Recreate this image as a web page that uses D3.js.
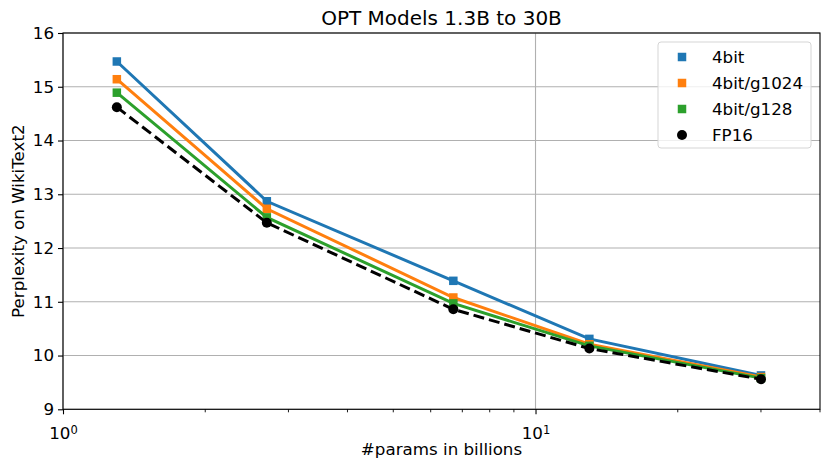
<!DOCTYPE html>
<html>
<head>
<meta charset="utf-8">
<script src="https://cdn.jsdelivr.net/npm/d3@7"></script>
<style>
  body { margin: 0; background: #fff; }
  text { font-family: "DejaVu Sans", sans-serif; fill: #000; }
</style>
</head>
<body>
<div id="chart-area"></div>
<script>
// model sizes (billions of params)
var params = [1.3, 2.7, 6.7, 13, 30];

var seriesNames = ["4bit", "4bit/g1024", "4bit/g128", "FP16"];
var ppl4bit = [15.47, 12.87, 11.39, 10.31, 9.63];
var ppl4bitG1024 = [15.14, 12.73, 11.08, 10.21, 9.60];
var ppl4bitG128 = [14.89, 12.57, 10.97, 10.18, 9.58];
var pplFP16 = [14.62, 12.47, 10.86, 10.13, 9.56];

var yTicks = [9, 10, 11, 12, 13, 14, 15, 16];
var xMajor = [1, 10];
var xMinor = [2, 3, 4, 5, 6, 7, 8, 9, 20, 30, 40];

var width = 830;
var height = 469;
var margin = {left: 63, right: 10, top: 33, bottom: 60};
var fs = "16.7px";

var svg = d3.select("#chart-area")
    .append("svg")
    .attr("width", width)
    .attr("height", height);

var x = d3.scaleLog()
    .domain([1, 40])
    .range([margin.left, width - margin.right]);

var y = d3.scaleLinear()
    .domain([9, 16])
    .range([height - margin.bottom + 0.3, margin.top]);

// grid
svg.append("g")
    .selectAll("line.hgrid")
    .data(yTicks)
    .enter().append("line")
    .attr("x1", x(1)).attr("x2", x(40))
    .attr("y1", function(d) { return y(d); })
    .attr("y2", function(d) { return y(d); })
    .attr("stroke", "#b0b0b0")
    .attr("stroke-width", 1.1);

svg.append("g")
    .selectAll("line.vgrid")
    .data(xMajor)
    .enter().append("line")
    .attr("x1", function(d) { return x(d); })
    .attr("x2", function(d) { return x(d); })
    .attr("y1", y(9)).attr("y2", y(16))
    .attr("stroke", "#b0b0b0")
    .attr("stroke-width", 1.1);

// axes
var yAxisCall = d3.axisLeft(y)
    .tickValues(yTicks)
    .tickSize(5)
    .tickPadding(4)
    .tickFormat(d3.format("d"));
var yAxisGroup = svg.append("g")
    .attr("transform", "translate(" + margin.left + ",0)")
    .call(yAxisCall);
yAxisGroup.select(".domain").remove();
yAxisGroup.selectAll("text")
    .attr("font-size", fs)
    .attr("font-family", "DejaVu Sans");
yAxisGroup.selectAll("line").attr("stroke-width", 1.1);

var xAxisCall = d3.axisBottom(x)
    .tickValues(xMajor)
    .tickSize(5)
    .tickPadding(3)
    .tickFormat(function() { return ""; });
var xAxisGroup = svg.append("g")
    .attr("transform", "translate(0," + y(9) + ")")
    .call(xAxisCall);
xAxisGroup.select(".domain").remove();
xAxisGroup.selectAll("line").attr("stroke-width", 1.1);

// 10^n labels
var xLab = xAxisGroup.selectAll(".tick text")
    .attr("font-size", fs)
    .attr("font-family", "DejaVu Sans")
    .attr("dy", "1.3em");
xLab.append("tspan").text("10");
xLab.append("tspan")
    .attr("dy", "-0.45em")
    .attr("font-size", "11.5px")
    .text(function(d) { return Math.round(Math.log10(d)); });

// minor ticks
svg.append("g")
    .selectAll("line")
    .data(xMinor)
    .enter().append("line")
    .attr("x1", function(d) { return x(d); })
    .attr("x2", function(d) { return x(d); })
    .attr("y1", y(9)).attr("y2", y(9) + 3)
    .attr("stroke", "#000")
    .attr("stroke-width", 0.9);

// frame
svg.append("rect")
    .attr("x", x(1)).attr("y", y(16))
    .attr("width", x(40) - x(1))
    .attr("height", y(9) - y(16))
    .attr("fill", "none")
    .attr("stroke", "#000")
    .attr("stroke-width", 1.1);

// labels
svg.append("text")
    .attr("x", (x(1) + x(40)) / 2)
    .attr("y", 25)
    .attr("text-anchor", "middle")
    .attr("font-size", "20px")
    .text("OPT Models 1.3B to 30B");

svg.append("text")
    .attr("x", (x(1) + x(40)) / 2)
    .attr("y", 455)
    .attr("text-anchor", "middle")
    .attr("font-size", fs)
    .text("#params in billions");

svg.append("text")
    .attr("transform", "translate(24," + (y(9) + y(16)) / 2 + ") rotate(-90)")
    .attr("text-anchor", "middle")
    .attr("font-size", fs)
    .text("Perplexity on WikiText2");

// series
var series = [
    {name: seriesNames[0], values: ppl4bit, color: "#1f77b4", marker: "square", dash: null},
    {name: seriesNames[1], values: ppl4bitG1024, color: "#ff7f0e", marker: "square", dash: null},
    {name: seriesNames[2], values: ppl4bitG128, color: "#2ca02c", marker: "square", dash: null},
    {name: seriesNames[3], values: pplFP16, color: "#000000", marker: "circle", dash: "11,5"}
];

var line = d3.line()
    .x(function(d, i) { return x(params[i]); })
    .y(function(d) { return y(d); });

var ms = 8.5;

series.forEach(function(s) {
    var g = svg.append("g");
    g.append("path")
        .datum(s.values)
        .attr("d", line)
        .attr("fill", "none")
        .attr("stroke", s.color)
        .attr("stroke-width", 3)
        .attr("stroke-dasharray", s.dash);

    if (s.marker === "square") {
        g.selectAll("rect")
            .data(s.values)
            .enter().append("rect")
            .attr("x", function(d, i) { return x(params[i]) - ms / 2; })
            .attr("y", function(d) { return y(d) - ms / 2; })
            .attr("width", ms)
            .attr("height", ms)
            .attr("fill", s.color);
    } else {
        g.selectAll("circle")
            .data(s.values)
            .enter().append("circle")
            .attr("cx", function(d, i) { return x(params[i]); })
            .attr("cy", function(d) { return y(d); })
            .attr("r", 5)
            .attr("fill", s.color);
    }
});

// legend
var legend = svg.append("g")
    .attr("transform", "translate(658,42)");

legend.append("rect")
    .attr("width", 153)
    .attr("height", 106)
    .attr("rx", 3)
    .attr("fill", "#fff")
    .attr("fill-opacity", 0.8)
    .attr("stroke", "#d5d5d5")
    .attr("stroke-width", 1);

series.forEach(function(s, i) {
    var row = legend.append("g")
        .attr("transform", "translate(0," + (15 + i * 26) + ")");
    if (s.marker === "square") {
        row.append("rect")
            .attr("x", 24 - ms / 2)
            .attr("y", -ms / 2)
            .attr("width", ms)
            .attr("height", ms)
            .attr("fill", s.color);
    } else {
        row.append("circle")
            .attr("cx", 24)
            .attr("cy", 0)
            .attr("r", 5)
            .attr("fill", s.color);
    }
    row.append("text")
        .attr("x", 54)
        .attr("y", 6)
        .attr("font-size", fs)
        .text(s.name);
});
</script>
</body>
</html>
